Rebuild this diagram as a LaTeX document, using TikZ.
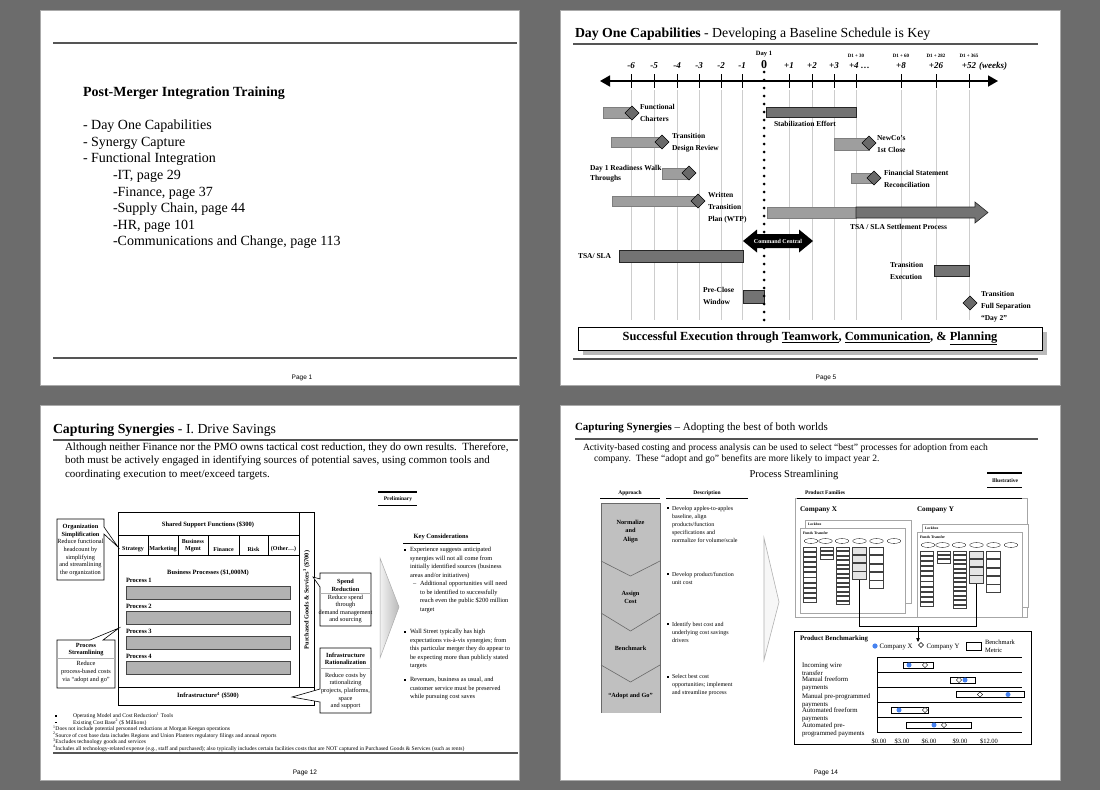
\documentclass[tikz,border=0pt]{standalone}
\usepackage{fontspec}
\setmainfont{Liberation Serif}
\setsansfont{Liberation Sans}
\usetikzlibrary{arrows.meta,shapes.geometric}
\newcommand\fsz[2]{\fontsize{#1}{#2}\selectfont}
\definecolor{bg}{RGB}{108,108,108}
\definecolor{slideedge}{RGB}{170,170,170}
\definecolor{rulec}{RGB}{85,85,85}
\definecolor{barlight}{RGB}{158,158,158}
\definecolor{bardark}{RGB}{115,115,115}
\definecolor{diafill}{RGB}{105,105,105}
\definecolor{gridc}{RGB}{205,205,205}
\definecolor{procfill}{RGB}{178,178,178}
\definecolor{apfill}{RGB}{192,192,192}
\definecolor{apline}{RGB}{105,105,105}
\definecolor{bluedot}{RGB}{70,130,240}
\newcommand\pfcol[6]{%
  \foreach \k in {1,...,#5}
    \draw[line width=0.25pt,draw=black!75,fill=#6] ({#1-#2/2},{#3+(\k-1)*(#4+0.9)}) rectangle ++(#2,#4);}
\begin{document}
\begin{tikzpicture}[x=1pt,y=-1pt,
  every node/.style={inner sep=0pt,outer sep=0pt},
  slide/.style={fill=white,draw=slideedge,line width=0.6pt},
  rulel/.style={draw=rulec,line width=1.1pt},
  pagenum/.style={font=\sffamily\fsz{6.5}{8}},
  lt/.style={anchor=west,align=left},
  gl/.style={anchor=west,align=left,font=\bfseries\fsz{7.5}{12}},
  lbar/.style={fill=barlight,draw=barlight!80!black,line width=0.3pt},
  dbar/.style={fill=bardark,draw=black!85,line width=0.6pt},
  dia/.style={diamond,draw=black,fill=diafill,minimum width=14pt,minimum height=14pt,line width=0.5pt},
  tl/.style={font=\bfseries\itshape\fsz{9}{10}},
  d1/.style={font=\bfseries\fsz{5}{6}},
  gridl/.style={draw=gridc,line width=0.6pt},
  boxl/.style={draw=black,line width=0.7pt},
  callout/.style={draw=black,fill=white,line width=0.6pt},
  chd/.style={font=\bfseries\fsz{6.3}{7.5},align=center},
  cbd/.style={font=\fsz{6.3}{7.6},align=center},
  kc/.style={anchor=west,align=left,font=\fsz{6.35}{8.5}},
  fn/.style={anchor=west,font=\fsz{5.6}{6}},
  ds/.style={anchor=west,align=left,font=\fsz{6}{8}},
  apl/.style={font=\bfseries\fsz{6.3}{8.3},align=center},
  pf/.style={draw=gray!70,line width=0.4pt,fill=white},
  bl/.style={anchor=west,align=left,font=\fsz{6.8}{8}},
  colhd/.style={font=\bfseries\fsz{5.5}{6}}
]
% ---------- background and slides ----------
\fill[bg] (0,0) rectangle (1100,790);
\draw[slide] (40,10) rectangle (519,385);
\draw[slide] (560,10) rectangle (1060,385);
\draw[slide] (40,405) rectangle (519,780);
\draw[slide] (560,405) rectangle (1060,780);

% ================= Slide 1 =================
\draw[rulel] (53,43) -- (517,43);
\node[lt,font=\bfseries\fsz{14}{16}] (s1title) at (83,93) {Post-Merger Integration Training};
\foreach \y/\x/\t [count=\i] in {126/83/{- Day One Capabilities},143/83/{- Synergy Capture},159/83/{- Functional Integration},176/113/{-IT, page 29},193/113/{-Finance, page 37},209/113/{-Supply Chain, page 44},226/113/{-HR, page 101},242/113/{-Communications and Change, page 113}}
  \node[lt,font=\fsz{14}{16}] (s1item\i) at (\x,\y) {\t};
\draw[rulel] (53,358) -- (517,358);
\node[pagenum] (s1page) at (302,378) {Page 1};

% ================= Slide 2 =================
\node[lt,font=\fsz{13.8}{15}] (s2title) at (575,34) {\textbf{Day One Capabilities} - Developing a Baseline Schedule is Key};
\draw[rulel] (573,44) -- (1038,44);
% grid
\foreach \x in {631,654,677,699,721,742,789,812,834,856,901,936,969}
  \draw[gridl] (\x,90) -- (\x,320);
% axis
\coordinate (axL) at (600,81);
\coordinate (axR) at (998,81);
\draw[line width=1.8pt,{Triangle[length=10pt,width=11pt]}-{Triangle[length=10pt,width=11pt]}] (axL) -- (axR);
\foreach \x in {631,654,677,699,721,742,789,812,834,856,901,936,969}
  \draw[line width=1pt] (\x,74) -- (\x,88);
\foreach \x/\l [count=\i] in {631/-6,654/-5,677/-4,699/-3,721/-2,742/-1,789/+1,812/+2,834/+3,901/+8,936/+26,969/+52}
  \node[tl] (tk\i) at (\x,66) {\l};
\node[tl,anchor=west] (tk4w) at (849,66) {+4 …};
\node[tl,anchor=west] (weeks) at (979,66) {(weeks)};
\node[font=\bfseries\fsz{12}{12}] (zero) at (764,65) {0};
\node[font=\bfseries\fsz{6.5}{7}] (day1) at (764,54) {Day 1};
\node[d1] (d30) at (856,56) {D1 + 30};
\node[d1] (d60) at (901,56) {D1 + 60};
\node[d1] (d282) at (936,56) {D1 + 282};
\node[d1] (d365) at (969,56) {D1 + 365};
% bars
\draw[lbar] (603,107) rectangle (632,118);
\node[dia] (fcd) at (632,113) {};
\node[gl] (fcl) at (640,113) {Functional\\Charters};
\draw[lbar] (611,137) rectangle (662,147);
\node[dia] (tdd) at (662,142) {};
\node[gl] (tdl) at (672,143) {Transition\\Design Review};
\draw[lbar] (662,168) rectangle (689,179);
\node[dia] (d1d) at (689,173) {};
\node[anchor=west,align=left,font=\bfseries\fsz{7.5}{10}] (d1l) at (590,173.5) {Day 1 Readiness Walk\\Throughs};
\draw[lbar] (612,196) rectangle (698,206);
\node[dia] (wtd) at (698,201) {};
\node[gl] (wtl) at (708,208) {Written\\Transition\\Plan (WTP)};
\draw[dbar] (766,107) rectangle (856,117);
\node[gl] (stl) at (774,124) {Stabilization Effort};
\draw[lbar] (834,138) rectangle (869,150);
\node[dia] (ncd) at (869,143) {};
\node[gl] (ncl) at (877,144) {NewCo’s\\1st Close};
\draw[lbar] (851,173) rectangle (874,183);
\node[dia] (fsd) at (874,178) {};
\node[gl] (fsl) at (884,179) {Financial Statement\\Reconciliation};
\draw[lbar] (767,207) rectangle (856,218);
\draw[dbar] (856,207) -- (975,207) -- (975,202) -- (988,212.5) -- (975,223) -- (975,218) -- (856,218) -- cycle;
\node[gl] (tsal) at (850,227) {TSA / SLA Settlement Process};
\node[gl] (tsa2l) at (578,256) {TSA/ SLA};
\draw[dbar] (619,250) rectangle (743,262);
\node[gl] (tel) at (890,271) {Transition\\Execution};
\draw[dbar] (934,265) rectangle (969,276);
\node[gl] (pcl) at (703,296) {Pre-Close\\Window};
\draw[dbar] (743,290) rectangle (764,303);
\node[dia] (d2d) at (970,303) {};
\node[gl] (d2l) at (981,306.5) {Transition\\Full Separation\\“Day 2”};
% dotted day-1 line
\foreach \i in {0,...,31}
  \fill (764,{72+8*\i}) circle (1.5);
% command central
\fill[black] (743,241) -- (757,229.5) -- (757,234) -- (799,234) -- (799,229.5) -- (813,241) -- (799,252.5) -- (799,248) -- (757,248) -- (757,252.5) -- cycle;
\node[font=\bfseries\fsz{6}{7},text=white] (cc) at (778,241) {Command Central};
% bottom banner
\fill[gray!55] (583,332) rectangle (1047,355);
\draw[fill=white,line width=0.6pt] (578,327) rectangle (1042,350);
\node[font=\bfseries\fsz{12.4}{14}] (s2bot) at (810,338.5) {Successful Execution through \underline{Teamwork}, \underline{Communication}, \& \underline{Planning}};
\draw[rulel] (573,359) -- (1038,359);
\node[pagenum] (s2page) at (826,378) {Page 5};

% ================= Slide 3 =================
\node[lt,font=\fsz{13.8}{15}] (s3title) at (53,430) {\textbf{Capturing Synergies} - I. Drive Savings};
\draw[rulel] (53,440) -- (518,440);
\node[lt,font=\fsz{11}{13.5}] (s3para) at (65,461) {Although neither Finance nor the PMO owns tactical cost reduction, they do own results.\ \ Therefore,\\both must be actively engaged in identifying sources of potential saves, using common tools and\\coordinating execution to meet/exceed targets.};
\node[font=\bfseries\fsz{5.5}{6}] (prelim) at (398,499) {Preliminary};
\draw[line width=1.2pt] (378,492) -- (417,492);
\draw[line width=1.2pt] (378,505.5) -- (417,505.5);
% main box
\draw[boxl,fill=white] (118,512) rectangle (314,705);
\draw[boxl] (299,512) -- (299,687);
\draw[boxl] (118,535) -- (299,535);
\draw[boxl] (118,555) -- (299,555);
\draw[boxl] (118,687) -- (314,687);
\foreach \x in {148,178,208,239,268} \draw[boxl] (\x,535) -- (\x,555);
\node[font=\bfseries\fsz{6.5}{7}] (ssf) at (208,524.5) {Shared Support Functions (\$300)};
\foreach \x/\t [count=\i] in {133/Strategy,163/Marketing,223.5/Finance,253.5/Risk,283.5/(Other…)}
  \node[font=\bfseries\fsz{6}{7}] (sub\i) at (\x,549.5) {\t};
\node[font=\bfseries\fsz{6}{7.5},align=center] (subbm) at (193,545.5) {Business\\Mgmt};
\node[font=\bfseries\fsz{6.5}{7}] (bp) at (208,573) {Business Processes (\$1,000M)};
\foreach \y/\yb [count=\i] in {580.5/586,606/611,631/636,656/661.5}{
  \node[lt,font=\bfseries\fsz{6.5}{7}] (pl\i) at (126,\y) {Process \i};
  \draw[fill=procfill,draw=gray!55!black,line width=0.5pt] (126,\yb) rectangle (290,{\yb+13.2});
}
\node[font=\bfseries\fsz{6.5}{7}] (infra) at (208,695.5) {Infrastructure\textsuperscript{4} (\$500)};
\node[font=\bfseries\fsz{6.3}{7},rotate=90] (pgs) at (306.5,600) {Purchased Goods \& Services\textsuperscript{3} (\$700)};
% callouts
\draw[callout] (57,519) -- (104,519) -- (104,527) -- (118,547) -- (104,534) -- (104,580) -- (57,580) -- cycle;
\node[chd] (osh) at (80.5,531) {Organization\\Simplification};
\node[cbd] (osb) at (80.5,557.5) {Reduce functional\\headcount by\\simplifying\\and streamlining\\the organization};
\draw[callout] (57,640) -- (90,640) -- (119,628) -- (103,640) -- (115,640) -- (115,688) -- (57,688) -- cycle;
\node[chd] (psh) at (86,649.5) {Process\\Streamlining};
\draw[gray!60,line width=0.4pt] (57,658) -- (115,658);
\node[cbd] (psb) at (86,672) {Reduce\\process-based costs\\via “adopt and go”};
\draw[callout] (320,573) -- (371,573) -- (371,626) -- (320,626) -- (320,587) -- (313,577) -- (320,579) -- cycle;
\node[chd] (srh) at (345.5,585.5) {Spend\\Reduction};
\draw[gray!60,line width=0.4pt] (320,593) -- (371,593);
\node[cbd] (srb) at (345.5,609) {Reduce spend\\through\\demand management\\and sourcing};
\draw[callout] (320,648) -- (371,648) -- (371,713) -- (320,713) -- (320,702) -- (292,697) -- (320,689) -- cycle;
\node[chd] (irh) at (345.5,659) {Infrastructure\\Rationalization};
\draw[gray!60,line width=0.4pt] (320,668) -- (371,668);
\node[cbd] (irb) at (345.5,691) {Reduce costs by\\rationalizing\\projects, platforms,\\space\\and support};
% big arrow
\shade[left color=gray!10,right color=gray!55] (380,558) -- (399,607) -- (380,658) -- cycle;
\draw[gray!65,line width=0.5pt] (380,558) -- (399,607) -- (380,658) -- cycle;
% key considerations
\node[font=\bfseries\fsz{6.5}{7}] (kct) at (441,537) {Key Considerations};
\draw[line width=0.6pt] (403,543) -- (480,543);
\foreach \y in {550,632,680} \fill (403.5,{\y-1}) rectangle ++(2,2);
\node[kc] (kc1) at (410,563) {Experience suggests anticipated\\synergies will not all come from\\initially identified sources (business\\areas and/or initiatives)};
\node[kc] (kcd) at (413,584.5) {–};
\node[kc] (kc1a) at (420,597) {Additional opportunities will need\\to be identified to successfully\\reach even the public \$200 million\\target};
\node[kc] (kc2) at (410,649) {Wall Street typically has high\\expectations vis-à-vis synergies; from\\this particular merger they do appear to\\be expecting more than publicly stated\\targets};
\node[kc] (kc3) at (410,688.5) {Revenues, business as usual, and\\customer service must be preserved\\while pursuing cost saves};
% footnotes
\fill (55,715.2) rectangle ++(1.5,1.5);
\fill (55,721.5) rectangle ++(1.5,1.5);
\node[fn] (fn0a) at (73,716) {Operating Model and Cost Reduction\textsuperscript{1} Tools};
\node[fn] (fn0b) at (73,722.3) {Existing Cost Base\textsuperscript{2} (\$ Millions)};
\node[fn] (fn1) at (53,729) {\textsuperscript{1}Does not include potential personnel reductions at Morgan Keegan operations};
\node[fn] (fn2) at (53,735.5) {\textsuperscript{2}Source of cost base data includes Regions and Union Planters regulatory filings and annual reports};
\node[fn] (fn3) at (53,742) {\textsuperscript{3}Excludes technology goods and services};
\node[fn] (fn4) at (53,748.3) {\textsuperscript{4}Includes all technology-related expense (e.g., staff and purchased); also typically includes certain facilities costs that are NOT captured in Purchased Goods \& Services (such as rents)};
\draw[rulel] (53,753) -- (518,753);
\node[pagenum] (s3page) at (305,773) {Page 12};

% ================= Slide 4 =================
\node[lt,font=\fsz{11}{12}] (s4title) at (575,428) {\textbf{Capturing Synergies} – Adopting the best of both worlds};
\draw[rulel] (575,439) -- (1038,439);
\node[lt,font=\fsz{9.6}{10}] (s4p1) at (583,448) {Activity-based costing and process analysis can be used to select “best” processes for adoption from each};
\node[lt,font=\fsz{9.6}{10}] (s4p2) at (594,459) {company.\ \ These “adopt and go” benefits are more likely to impact year 2.};
\node[font=\fsz{10.5}{12}] (s4ps) at (794,475) {Process Streamlining};
\node[font=\bfseries\fsz{5.5}{6}] (illus) at (1005,480.5) {Illustrative};
\draw[line width=1.2pt] (987,473) -- (1022,473);
\draw[line width=1.2pt] (987,487.5) -- (1022,487.5);
\node[colhd] (aph) at (630,493) {Approach};
\node[colhd] (dsh) at (707,493) {Description};
\node[colhd,anchor=west] (pfh) at (805,493) {Product Families};
\draw[line width=0.8pt] (600,498) -- (660,498);
\draw[line width=0.8pt] (666,498) -- (748,498);
% approach column
\fill[apfill] (601,503) rectangle (660,713);
\draw[apline,line width=0.5pt] (601,503) -- (601,713);
\draw[apline,line width=0.5pt] (660,503) -- (660,713);
\draw[apline,line width=0.5pt] (601,503) -- (660,503);
\foreach \ya/\yb in {561/576,613/631,665/682}
  \draw[apline,line width=0.6pt] (601,\ya) -- (630.5,\yb) -- (660,\ya);
\node[apl] (ap1) at (630.5,531.5) {Normalize\\and\\Align};
\node[apl] (ap2) at (630.5,597.5) {Assign\\Cost};
\node[apl] (ap3) at (630.5,648) {Benchmark};
\node[apl] (ap4) at (630.5,696) {“Adopt and Go”};
% descriptions
\foreach \y in {508,574,624,677} \fill (667,{\y-1}) rectangle ++(1.8,1.8);
\node[ds] (ds1) at (672,524.5) {Develop apples-to-apples\\baseline, align\\products/function\\specifications and\\normalize for volume/scale};
\node[ds] (ds2) at (672,578.5) {Develop product/function\\unit cost};
\node[ds] (ds3) at (672,632) {Identify best cost and\\underlying cost savings\\drivers};
\node[ds] (ds4) at (672,685) {Select best cost\\opportunities; implement\\and streamline process};
% arrow
\draw[gray!60,fill=gray!6,line width=0.6pt] (764,538) -- (779,602) -- (764,660) -- cycle;
% product families
\draw[draw=gray!70,line width=0.6pt] (795,498) rectangle (1027,617);
\draw[line width=0.8pt] (797,498) -- (1022,498);
\node[lt,font=\bfseries\fsz{7.2}{8}] (cxl) at (800,510) {Company X};
\node[lt,font=\bfseries\fsz{7.2}{8}] (cyl) at (917,510) {Company Y};
\foreach \ox/\oy/\nm in {0/0/x,117/-4/y}{
  \begin{scope}[xshift=\ox pt,yshift=\oy pt]
    \draw[pf] (805,520) rectangle (911,603);
    \node[lt,font=\bfseries\fsz{3.6}{4}] (lb\nm) at (808,524) {Lockbox};
    \draw[pf] (800,528) rectangle (905,613);
    \node[lt,font=\bfseries\fsz{3.8}{4}] (ft\nm) at (803,533) {Funds Transfer};
    \foreach \ex in {811,825.5,842,859.5,876.5,894}
      \draw[line width=0.3pt] (\ex,541) ellipse (6.8 and 2.4);
    \pfcol{810}{13}{547}{4.2}{11}{white}
    \pfcol{826.5}{13}{547}{3.3}{3}{white}
    \pfcol{842.5}{13}{547}{3.6}{13}{white}
    \pfcol{859.5}{14}{547}{7.3}{4}{gray!20}
    \pfcol{876.5}{14}{547}{7.5}{5}{white}
  \end{scope}
}
\coordinate (cx4) at (859.5,580);
\coordinate (cy4) at (976.5,584);
\coordinate (bx) at (859.5,626);
\coordinate (by) at (976.5,626);
\coordinate (bm) at (918,626);
\draw[line width=0.5pt] (cx4) -- (bx) -- (by) -- (cy4);
% product benchmarking
\draw[line width=0.6pt,fill=white] (794,631) rectangle (1031,744);
\draw[line width=0.6pt,-{Triangle[length=4pt,width=3.5pt]}] (bm) -- (918,642);
\node[lt,font=\bfseries\fsz{6.8}{8}] (pbt) at (800,638.5) {Product Benchmarking};
\fill[bluedot] (875,646) circle (2.6);
\node[lt,font=\fsz{6.8}{8}] (lgx) at (879.5,647) {Company X};
\draw[line width=0.4pt] (921,642.5) -- (923.5,645) -- (921,647.5) -- (918.5,645) -- cycle;
\node[lt,font=\fsz{6.8}{8}] (lgy) at (926.5,647) {Company Y};
\draw[line width=0.4pt] (966,642) rectangle (981,650);
\node[lt,font=\fsz{6.5}{7.6}] (lgb) at (985,646.5) {Benchmark\\Metric};
\foreach \y in {657,672,687,702,717,732} \draw[line width=0.6pt] (877,\y) -- (1022,\y);
\draw[line width=0.6pt] (877,657) -- (877,732);
\foreach \y/\t [count=\i] in {669/{Incoming wire\\transfer},684/{Manual freeform\\payments},701/{Manual pre-programmed\\payments},715/{Automated freeform\\payments},730/{Automated pre-\\programmed payments}}
  \node[bl] (rl\i) at (802,\y) {\t};
\foreach \x/\t [count=\i] in {879/\$0.00,902/\$3.00,929/\$6.00,960/\$9.00,989/\$12.00}
  \node[font=\fsz{6.5}{7}] (xl\i) at (\x,741) {\t};
\foreach \y/\ba/\bb/\dx/\dy [count=\i] in {665/903/933/909/925,680/950/975/965/959,694.5/956/1024/1008/980,710/891/928/899/925,725/906/971/934/944}{
  \draw[line width=0.4pt,fill=white] (\ba,{\y-3}) rectangle (\bb,{\y+3});
  \fill[bluedot] (\dx,\y) circle (2.5);
  \draw[line width=0.4pt,fill=white] (\dy,{\y-2.6}) -- ({\dy+2.6},\y) -- (\dy,{\y+2.6}) -- ({\dy-2.6},\y) -- cycle;
}
\node[pagenum] (s4page) at (826,773) {Page 14};
\end{tikzpicture}
\end{document}
